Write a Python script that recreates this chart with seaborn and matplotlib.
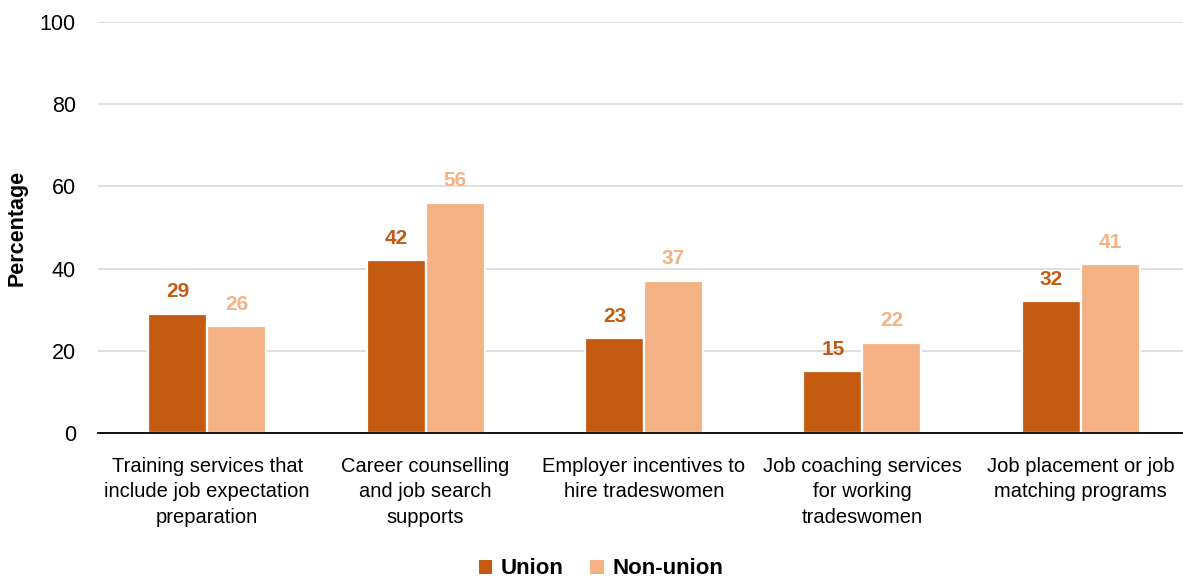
import matplotlib
matplotlib.use("Agg")
import matplotlib.pyplot as plt
from matplotlib.patches import Patch
import seaborn as sns
import pandas as pd

categories = [
    "Training services that\ninclude job expectation\npreparation",
    "Career counselling\nand job search\nsupports",
    "Employer incentives to\nhire tradeswomen",
    "Job coaching services\nfor working\ntradeswomen",
    "Job placement or job\nmatching programs",
]
union = [29, 42, 23, 15, 32]
non_union = [26, 56, 37, 22, 41]
groups = ["Union", "Non-union"]
colors = {"Union": "#C55A11", "Non-union": "#F4B183"}

df = pd.DataFrame({
    "category": categories * 2,
    "group": [groups[0]] * len(categories) + [groups[1]] * len(categories),
    "value": union + non_union,
})

sns.set_theme(style="white")
plt.rcParams["font.family"] = ["Liberation Sans", "DejaVu Sans"]
plt.rcParams["text.color"] = "black"

fig = plt.figure(figsize=(11.83, 5.8), dpi=100)
ax = fig.add_axes([98 / 1183, 147 / 580, 1092 / 1183, 411 / 580])

sns.barplot(data=df, x="category", y="value", hue="group", order=categories,
            hue_order=groups, palette=colors, width=0.54, edgecolor="white",
            linewidth=1.6, saturation=1, legend=False, ax=ax, zorder=3)

for container, g in zip(ax.containers, groups):
    ax.bar_label(container, fmt="%d", padding=9, color=colors[g],
                 fontsize=15, fontweight="bold")

ax.set_ylim(0, 100)
ax.set_xlim(-0.5, 4.5)
ax.set_yticks(range(0, 101, 20))
ax.yaxis.grid(True, color="#D9D9D9", linewidth=1.2, zorder=0)
ax.set_axisbelow(True)
for s in ["top", "right", "left"]:
    ax.spines[s].set_visible(False)
ax.spines["bottom"].set_color("black")
ax.spines["bottom"].set_linewidth(1.3)
ax.spines["bottom"].set_zorder(4)

ax.tick_params(axis="y", length=0, pad=16, labelsize=15.5, labelcolor="black")
ax.tick_params(axis="x", length=0, pad=17, labelsize=14.5, labelcolor="black")
for lbl in ax.get_xticklabels():
    lbl.set_linespacing(1.45)
ax.set_xlabel("")
ax.set_ylabel("Percentage", fontsize=15.5, fontweight="bold", color="black", labelpad=9)

handles = [Patch(facecolor=colors[g], edgecolor="none", label=g) for g in groups]
leg = fig.legend(handles=handles, loc="center", bbox_to_anchor=(601 / 1183, 1 - 569 / 580),
                 ncol=2, frameon=False, handlelength=0.6, handleheight=0.6,
                 handletextpad=0.4, columnspacing=1.2,
                 prop={"size": 16, "weight": "bold"})
for t in leg.get_texts():
    t.set_color("black")

fig.savefig("out.png", dpi=100)
